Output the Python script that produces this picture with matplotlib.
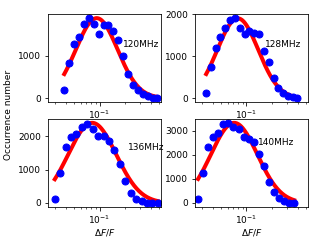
import numpy as np
import matplotlib
matplotlib.use("Agg")
import matplotlib.pyplot as plt

plt.rcParams["font.size"] = 9

labels = ["120MHz", "128MHz", "136MHz", "140MHz"]

x_120 = [0.0385, 0.0441, 0.0501, 0.0574, 0.0657, 0.0747, 0.0855, 0.0979, 0.112, 0.127,
         0.145, 0.166, 0.191, 0.216, 0.248, 0.284, 0.322, 0.369, 0.423, 0.471]
y_120 = [197, 827, 1276, 1433, 1732, 1885, 1748, 1512, 1709, 1724,
         1575, 1362, 984, 575, 315, 181, 94, 39, 8, 0]

x_128 = [0.0336, 0.0385, 0.0436, 0.0494, 0.0566, 0.0643, 0.0736, 0.0834, 0.0955, 0.108,
         0.124, 0.141, 0.161, 0.183, 0.209, 0.238, 0.272, 0.310, 0.351, 0.394]
y_128 = [135, 741, 1211, 1450, 1673, 1857, 1915, 1665, 1538, 1594,
         1546, 1538, 1139, 869, 494, 255, 135, 64, 24, 8]

x_136 = [0.0298, 0.0345, 0.0399, 0.0463, 0.0536, 0.0621, 0.0718, 0.0832, 0.0966, 0.112,
         0.129, 0.150, 0.173, 0.201, 0.233, 0.270, 0.312, 0.361, 0.419, 0.485]
y_136 = [131, 889, 1687, 1970, 2051, 2273, 2374, 2202, 2020, 2000,
         1869, 1596, 1182, 657, 313, 131, 51, 10, 0, 0]

x_140 = [0.0270, 0.0310, 0.0355, 0.0408, 0.0467, 0.0535, 0.0614, 0.0704, 0.0807, 0.0925,
         0.106, 0.122, 0.140, 0.160, 0.184, 0.211, 0.241, 0.277, 0.317, 0.364]
y_140 = [171, 1243, 2329, 2743, 2900, 3271, 3314, 3143, 3071, 2743,
         2643, 2529, 2043, 1529, 886, 471, 214, 71, 0, 0]

# Gaussian fit parameters in log10(dF/F): amplitude, centre, width
fit_amp = [1880, 1905, 2400, 3330]
fit_mu = [-1.033, -1.102, -1.086, -1.145]
fit_sigma = [0.246, 0.241, 0.282, 0.273]

xs = [x_120, x_128, x_136, x_140]
ys = [y_120, y_128, y_136, y_140]
text_pos = [(0.66, 0.655), (0.62, 0.655), (0.705, 0.67), (0.56, 0.73)]

fig, axes = plt.subplots(2, 2, figsize=(320 / 72, 240 / 72), dpi=72)
fig.subplots_adjust(left=0.15, right=0.9625, top=0.942, bottom=0.1375,
                    wspace=0.30, hspace=0.19)

for i, ax in enumerate(axes.flat):
    x = np.array(xs[i])
    y = np.array(ys[i])
    xf = np.logspace(np.log10(x.min()), np.log10(x.max()), 200)
    yf = fit_amp[i] * np.exp(-(np.log10(xf) - fit_mu[i]) ** 2 / (2 * fit_sigma[i] ** 2))
    ax.plot(xf, yf, color="red", lw=4)
    ax.plot(x, y, "o", color="blue", ms=7)
    ax.set_xscale("log")
    ax.set_xlim(0.0248, 0.529)
    ax.text(text_pos[i][0], text_pos[i][1], labels[i], transform=ax.transAxes,
            va="center", ha="left")
    if i >= 2:
        ax.set_xlabel(r"$\Delta F/F$", labelpad=0.5)

fig.text(0.028, 0.52, "Occurrence number", rotation=90, va="center", ha="center")

fig.savefig("out.png", dpi=72)
